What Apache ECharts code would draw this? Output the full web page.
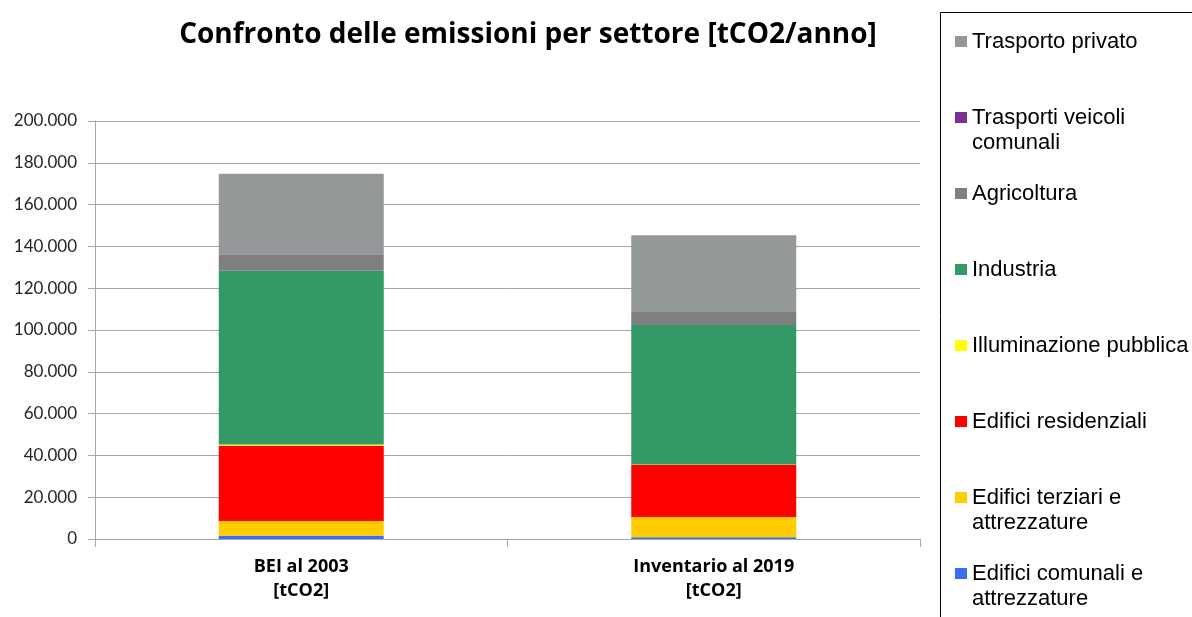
<!DOCTYPE html>
<html>
<head>
<meta charset="utf-8">
<script src="https://cdn.jsdelivr.net/npm/echarts@6/dist/echarts.min.js"></script>
<style>
  html, body { margin: 0; padding: 0; background: #fff; }
  #chart { width: 1192px; height: 617px; }
</style>
</head>
<body>
<div id="chart"></div>
<script>
// categorie (asse x)
var categories = ['BEI al 2003\n[tCO2]', 'Inventario al 2019\n[tCO2]'];

// valori per settore [tCO2/anno]
var edificiComunali = [1500, 800];
var edificiTerziari = [7100, 9700];
var edificiResidenziali = [36000, 25000];
var illuminazione = [600, 200];
var industria = [83200, 66700];
var agricoltura = [7700, 6200];
var veicoliComunali = [100, 50];
var trasportoPrivato = [38600, 36700];

// tacche asse y
var yTicks = [0, 20000, 40000, 60000, 80000, 100000, 120000, 140000, 160000, 180000, 200000];

// etichette legenda (a capo come nell'originale)
var legendLabels = {
    'Trasporto privato': 'Trasporto privato',
    'Trasporti veicoli comunali': 'Trasporti veicoli\ncomunali',
    'Agricoltura': 'Agricoltura',
    'Industria': 'Industria',
    'Illuminazione pubblica': 'Illuminazione pubblica',
    'Edifici residenziali': 'Edifici residenziali',
    'Edifici terziari e attrezzature': 'Edifici terziari e\nattrezzature',
    'Edifici comunali e attrezzature': 'Edifici comunali e\nattrezzature'
};

var seriesDef = [
    {name: 'Edifici comunali e attrezzature', data: edificiComunali, color: '#3a6cf4'},
    {name: 'Edifici terziari e attrezzature', data: edificiTerziari, color: '#ffcc00'},
    {name: 'Edifici residenziali', data: edificiResidenziali, color: '#ff0000'},
    {name: 'Illuminazione pubblica', data: illuminazione, color: '#ffff00'},
    {name: 'Industria', data: industria, color: '#339966'},
    {name: 'Agricoltura', data: agricoltura, color: '#7f7f7f'},
    {name: 'Trasporti veicoli comunali', data: veicoliComunali, color: '#7b2f8e'},
    {name: 'Trasporto privato', data: trasportoPrivato, color: '#939899'}
];

function fmtThousands(v) {
    return String(v).replace(/\B(?=(\d{3})+(?!\d))/g, '.');
}

var series = seriesDef.map(function (s) {
    return {
        name: s.name,
        type: 'bar',
        stack: 'tot',
        barWidth: '40%',
        data: s.data,
        itemStyle: {color: s.color},
        emphasis: {disabled: true}
    };
});

// legenda in ordine inverso (dall'alto come nell'originale)
var legendData = seriesDef.slice().reverse().map(function (s) { return s.name; });

// ogni voce occupa 3 righe: il quadratino resta sulla prima riga di testo
function legendText(name) {
    var t = legendLabels[name];
    return t.indexOf('\n') >= 0 ? ' \n' + t : ' \n' + t + '\n ';
}

var chart = echarts.init(document.getElementById('chart'));
chart.setOption({
    animation: false,
    title: {
        text: 'Confronto delle emissioni per settore [tCO2/anno]',
        left: 523,
        top: 16,
        textAlign: 'center',
        textStyle: {fontFamily: 'Open Sans', fontWeight: 'bold', fontSize: 28, color: '#000'}
    },
    graphic: [{
        type: 'rect',
        shape: {x: 940.5, y: 12.5, width: 400, height: 700},
        style: {fill: 'none', stroke: '#000', lineWidth: 1},
        silent: true
    }],
    legend: {
        orient: 'vertical',
        left: 955,
        top: 4,
        height: 800,
        padding: 0,
        itemGap: 1,
        itemWidth: 12,
        itemHeight: 11,
        icon: 'rect',
        selectedMode: false,
        data: legendData,
        formatter: legendText,
        textStyle: {fontFamily: 'Liberation Sans', fontSize: 22, lineHeight: 25, color: '#000'}
    },
    grid: {left: 95, right: 272, top: 121, bottom: 78},
    xAxis: {
        type: 'category',
        data: categories,
        axisLine: {lineStyle: {color: '#a6a6a6', width: 1}},
        axisTick: {show: true, length: 8, lineStyle: {color: '#a6a6a6'}},
        axisLabel: {
            margin: 16,
            fontFamily: 'Open Sans',
            fontWeight: 'bold',
            fontSize: 18,
            lineHeight: 24,
            color: '#000'
        }
    },
    yAxis: {
        type: 'value',
        min: yTicks[0],
        max: yTicks[yTicks.length - 1],
        interval: yTicks[1] - yTicks[0],
        axisLine: {show: true, lineStyle: {color: '#a6a6a6'}},
        axisTick: {show: true, length: 7, lineStyle: {color: '#a6a6a6'}},
        splitLine: {lineStyle: {color: '#a6a6a6', width: 1}},
        axisLabel: {
            margin: 18,
            fontFamily: 'Lato',
            fontSize: 17,
            color: '#262626',
            formatter: fmtThousands
        }
    },
    series: series
});
</script>
</body>
</html>
